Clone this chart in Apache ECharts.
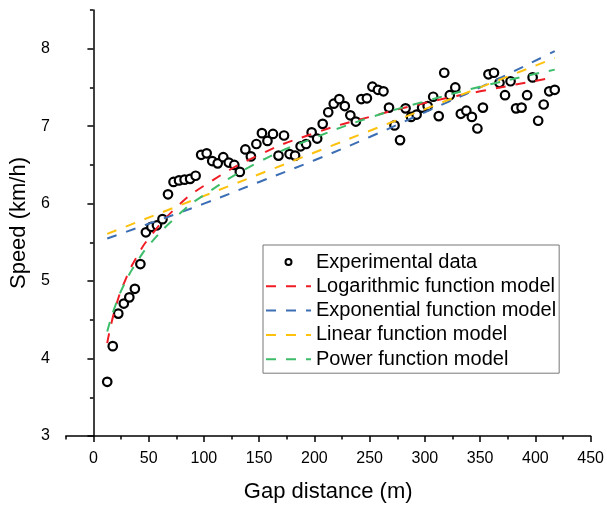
<!DOCTYPE html>
<html>
<head>
<meta charset="utf-8">
<script src="https://cdn.jsdelivr.net/npm/echarts@6/dist/echarts.min.js"></script>
<style>
  html, body { margin: 0; padding: 0; background: #fff; }
  #chart { width: 607px; height: 508px; }
</style>
</head>
<body>
<div id="chart"></div>
<script>
// measured points
const distance = [
  12.5, 17.5, 22.5, 27.5, 32.5, 37.5, 42.5, 47.5, 52.5, 57.5,
  62.5, 67.5, 72.5, 77.5, 82.5, 87.5, 92.5, 97.5, 102.5, 107.5,
  112.5, 117.5, 122.5, 127.5, 132.5, 137.5, 142.5, 147.5, 152.5, 157.5,
  162.5, 167.5, 172.5, 177.5, 182.5, 187.5, 192.5, 197.5, 202.5, 207.5,
  212.5, 217.5, 222.5, 227.5, 232.5, 237.5, 242.5, 247.5, 252.5, 257.5,
  262.5, 267.5, 272.5, 277.5, 282.5, 287.5, 292.5, 297.5, 302.5, 307.5,
  312.5, 317.5, 322.5, 327.5, 332.5, 337.5, 342.5, 347.5, 352.5, 357.5,
  362.5, 367.5, 372.5, 377.5, 382.5, 387.5, 392.5, 397.5, 402.5, 407.5,
  412.5, 417.5
];
const speed = [
  3.70, 4.16, 4.58, 4.71, 4.79, 4.90, 5.22, 5.63, 5.70, 5.72,
  5.80, 6.12, 6.28, 6.30, 6.31, 6.32, 6.36, 6.63, 6.65, 6.55,
  6.52, 6.60, 6.53, 6.50, 6.41, 6.70, 6.61, 6.77, 6.91, 6.81,
  6.90, 6.62, 6.88, 6.64, 6.62, 6.74, 6.77, 6.92, 6.84, 7.03,
  7.18, 7.29, 7.35, 7.26, 7.14, 7.06, 7.35, 7.36, 7.51, 7.47,
  7.45, 7.24, 7.01, 6.82, 7.23, 7.12, 7.15, 7.24, 7.26, 7.38,
  7.13, 7.69, 7.40, 7.50, 7.16, 7.20, 7.12, 6.97, 7.24, 7.67,
  7.69, 7.56, 7.40, 7.58, 7.23, 7.24, 7.40, 7.63, 7.07, 7.28,
  7.45, 7.47
];

// fitted curves
const fitX = [12.5, 20, 30, 40, 50, 75, 100, 150, 200, 250, 300, 350, 417.5];
const logY = [4.20, 4.66, 5.05, 5.33, 5.55, 5.95, 6.23, 6.63, 6.91, 7.12, 7.30, 7.45, 7.63];
const powY = [4.35, 4.69, 5.02, 5.26, 5.46, 5.83, 6.11, 6.54, 6.85, 7.11, 7.32, 7.51, 7.73];
const expX = [12.5, 50, 100, 150, 200, 250, 300, 350, 417.5];
const expY = [5.55, 5.74, 6.00, 6.28, 6.56, 6.86, 7.18, 7.50, 7.97];
const linX = [12.5, 200, 417.5];
const linY = [5.61, 6.66, 7.88];

// ticks
const xMajor = [0, 50, 100, 150, 200, 250, 300, 350, 400, 450];
const xMinor = [-25, 25, 75, 125, 175, 225, 275, 325, 375, 425];
const yMajor = [3, 4, 5, 6, 7, 8];
const yMinor = [3.5, 4.5, 5.5, 6.5, 7.5, 8.5];

const FONT = "Liberation Sans, Arial, sans-serif";
const zip = (xs, ys) => xs.map((x, i) => [x, ys[i]]);

const chart = echarts.init(document.getElementById("chart"), null, { renderer: "canvas" });

const lineSeries = (name, xs, ys, color) => ({
  name,
  type: "line",
  data: zip(xs, ys),
  smooth: true,
  symbol: "none",
  lineStyle: { color, width: 2, type: [10, 10] },
  itemStyle: { color },
  z: 3,
});

// line entries: keep the dashed stroke, hide the marker dot
const lineEntry = (name) => ({ name, itemStyle: { opacity: 0 } });

chart.setOption({
  animation: false,
  textStyle: { fontFamily: FONT, color: "#000" },
  grid: { left: 60, right: 15, top: 10, bottom: 70 },
  legend: {
    orient: "vertical",
    left: 263,
    top: 245,
    padding: [7, 3, 4, 2],
    itemGap: 4.3,
    itemWidth: 45,
    itemHeight: 6,
    itemTextGap: 7,
    borderColor: "#777",
    borderWidth: 1,
    textStyle: { fontFamily: FONT, fontSize: 20, color: "#000" },
    data: [
      { name: "Experimental data" },
      lineEntry("Logarithmic function model"),
      lineEntry("Exponential function model"),
      lineEntry("Linear function model"),
      lineEntry("Power function model"),
    ],
  },
  xAxis: [
    {
      type: "value",
      min: -25,
      max: 450,
      name: "Gap distance (m)",
      nameLocation: "middle",
      nameGap: 45,
      nameTextStyle: { fontSize: 22, fontFamily: FONT, color: "#000" },
      axisLine: { lineStyle: { color: "#000", width: 1.5 } },
      axisTick: { customValues: xMajor, length: 6, lineStyle: { color: "#000", width: 1.5 } },
      axisLabel: { customValues: xMajor, fontSize: 16, margin: 15, color: "#000" },
      splitLine: { show: false },
    },
    {
      type: "value",
      min: -25,
      max: 450,
      position: "bottom",
      axisLine: { show: false },
      axisTick: { customValues: xMinor, length: 3.5, lineStyle: { color: "#000", width: 1.5 } },
      axisLabel: { show: false },
      splitLine: { show: false },
    },
  ],
  yAxis: [
    {
      type: "value",
      min: 3,
      max: 8.5,
      name: "Speed (km/h)",
      nameLocation: "middle",
      nameGap: 18,
      nameTextStyle: { fontSize: 22, fontFamily: FONT, color: "#000" },
      axisLine: { show: true, lineStyle: { color: "#000", width: 1.5 } },
      axisTick: { show: true, customValues: yMajor, length: 6, lineStyle: { color: "#000", width: 1.5 } },
      axisLabel: { customValues: yMajor, fontSize: 16, margin: 16, color: "#000" },
      splitLine: { show: false },
    },
    {
      type: "value",
      min: 3,
      max: 8.5,
      position: "left",
      axisLine: { show: false },
      axisTick: { show: true, customValues: yMinor, length: 3.5, lineStyle: { color: "#000", width: 1.5 } },
      axisLabel: { show: false },
      splitLine: { show: false },
    },
  ],
  series: [
    {
      name: "Experimental data",
      type: "scatter",
      data: zip(distance, speed),
      symbol: "circle",
      symbolSize: 8.5,
      itemStyle: { color: "#fff", borderColor: "#000", borderWidth: 2.2, opacity: 1 },
      z: 2,
    },
    lineSeries("Logarithmic function model", fitX, logY, "#ee1c25"),
    lineSeries("Exponential function model", expX, expY, "#3c6eb4"),
    lineSeries("Linear function model", linX, linY, "#fdc10e"),
    lineSeries("Power function model", fitX, powY, "#3dbd6a"),
  ],
});
</script>
</body>
</html>
